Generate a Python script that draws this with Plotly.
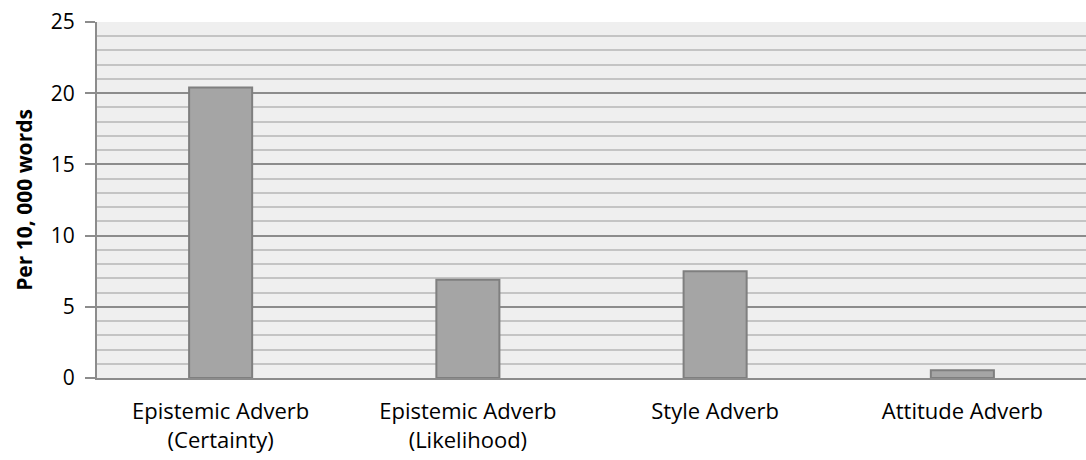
import plotly.graph_objects as go

categories = ["Epistemic Adverb<br>(Certainty)", "Epistemic Adverb<br>(Likelihood)", "Style Adverb", "Attitude Adverb"]
values = [20.4, 6.9, 7.5, 0.55]
y_ticks = [0, 5, 10, 15, 20, 25]

fig = go.Figure()
fig.add_trace(go.Bar(
    x=categories, y=values,
    marker=dict(color="#a5a5a5", line=dict(color="#7f7f7f", width=2)),
    width=0.255,
))

fig.update_layout(
    width=1086, height=460,
    margin=dict(l=97, r=0, t=22, b=82),
    paper_bgcolor="white",
    plot_bgcolor="#efefef",
    font=dict(family="Open Sans, Liberation Sans, sans-serif", color="#000000"),
    showlegend=False,
)
fig.update_yaxes(
    range=[0, 25],
    tickvals=y_ticks,
    tickfont=dict(size=21),
    showgrid=True, gridcolor="#8c8c8c", gridwidth=2,
    minor=dict(dtick=1, showgrid=True, gridcolor="#c4c4c4", gridwidth=2, ticks=""),
    showline=True, linecolor="#8c8c8c", linewidth=2,
    ticks="outside", ticklen=10, tickcolor="#8c8c8c", tickwidth=2,
    ticklabelstandoff=6,
    zeroline=False,
    title=dict(text="<b>Per 10, 000 words</b>", font=dict(size=21), standoff=12),
)
fig.update_xaxes(
    tickfont=dict(size=22),
    showline=True, linecolor="#8c8c8c", linewidth=2,
    ticks="",
    ticklabelstandoff=13,
    showgrid=False,
)

fig.write_html("out.html")
